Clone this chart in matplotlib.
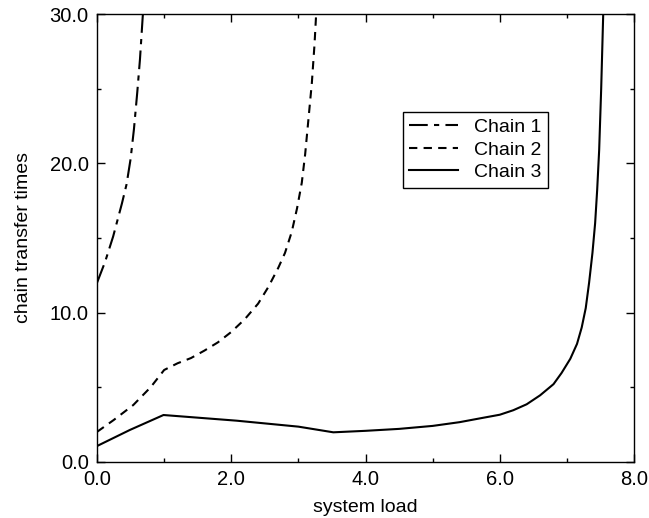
import matplotlib
matplotlib.use("Agg")
import matplotlib.pyplot as plt
from matplotlib.ticker import MultipleLocator, FormatStrFormatter

plt.rcParams['font.family'] = ['Liberation Sans', 'DejaVu Sans']

# chain transfer times vs system load
chain1_x = [0.0, 0.12, 0.24, 0.37, 0.44, 0.50, 0.55, 0.60, 0.64, 0.68, 0.70]
chain1_y = [12.0, 13.4, 15.1, 17.3, 18.6, 20.3, 22.3, 24.8, 27.0, 29.8, 31.0]

chain2_x = [0.0, 0.25, 0.54, 0.80, 1.0, 1.2, 1.4, 1.6, 1.8, 2.0, 2.2, 2.4,
            2.55, 2.7, 2.8, 2.9, 2.98, 3.05, 3.1, 3.15, 3.2, 3.24, 3.27]
chain2_y = [2.0, 2.8, 3.8, 5.0, 6.15, 6.6, 6.95, 7.45, 8.0, 8.7, 9.55, 10.6,
            11.7, 13.0, 14.0, 15.4, 17.0, 18.7, 20.6, 23.0, 25.4, 28.0, 30.5]

chain3_x = [0.0, 0.49, 0.99, 2.08, 3.0, 3.52, 4.0, 4.5, 5.0, 5.4, 5.71, 6.0,
            6.2, 6.4, 6.6, 6.8, 6.92, 7.05, 7.15, 7.22, 7.28, 7.33, 7.38,
            7.42, 7.45, 7.48, 7.51, 7.54, 7.55]
chain3_y = [1.05, 2.13, 3.13, 2.75, 2.35, 1.97, 2.07, 2.2, 2.4, 2.65, 2.91, 3.15,
            3.45, 3.85, 4.45, 5.2, 5.95, 6.9, 7.9, 9.0, 10.3, 12.0, 14.0,
            16.0, 18.2, 20.9, 25.0, 29.96, 31.0]

fig = plt.figure(figsize=(6.49, 5.18), dpi=100)
ax = fig.add_axes([0.1495, 0.1087, 0.8275, 0.8637])

ax.plot(chain1_x, chain1_y, color='black', lw=1.5, dashes=(9, 3, 2.5, 3), label='Chain 1')
ax.plot(chain2_x, chain2_y, color='black', lw=1.5, dashes=(4, 3), label='Chain 2')
ax.plot(chain3_x, chain3_y, color='black', lw=1.5, label='Chain 3')

ax.set_xlim(0, 8)
ax.set_ylim(0, 30)
ax.xaxis.set_major_locator(MultipleLocator(2))
ax.xaxis.set_minor_locator(MultipleLocator(1))
ax.yaxis.set_major_locator(MultipleLocator(10))
ax.yaxis.set_minor_locator(MultipleLocator(5))
ax.xaxis.set_major_formatter(FormatStrFormatter('%.1f'))
ax.yaxis.set_major_formatter(FormatStrFormatter('%.1f'))
ax.tick_params(which='both', direction='in', top=True, right=True, width=1)
ax.tick_params(which='major', length=6, pad=6, labelsize=14.5)
ax.tick_params(which='minor', length=3)
for sp in ax.spines.values():
    sp.set_linewidth(1)

ax.set_xlabel('system load', fontsize=14, labelpad=7)
ax.set_ylabel('chain transfer times', fontsize=14, labelpad=13)

leg = ax.legend(loc='upper left', bbox_to_anchor=(0.569, 0.782), fontsize=14,
                fancybox=False, edgecolor='black', framealpha=1, handlelength=2.5,
                borderpad=0.35, labelspacing=0.25, handletextpad=0.8, borderaxespad=0)
leg.get_frame().set_linewidth(1)

fig.savefig('out.png', dpi=100)
